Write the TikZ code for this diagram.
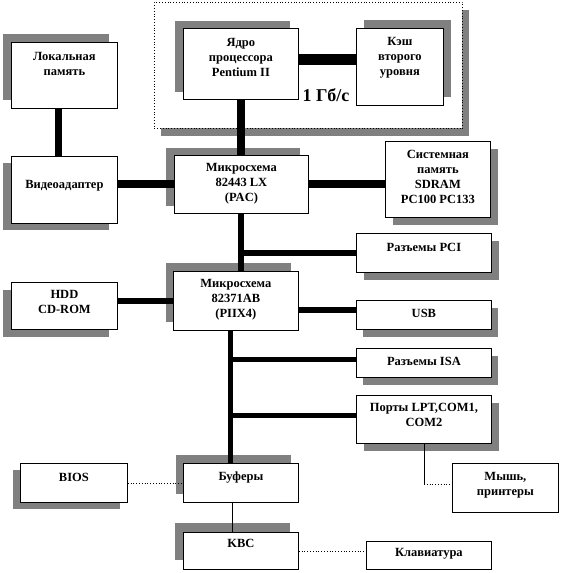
\documentclass[tikz,border=0pt]{standalone}
\usepackage{fontspec}
\setmainfont{Liberation Serif}
\usetikzlibrary{shadows}
\definecolor{shadowgray}{RGB}{128,128,128}
\tikzset{
    board diagram/.style = {x=1pt, y=-1pt},
    block/.style         = {draw, line width=0.8pt, fill=white,
                            anchor=north west, inner sep=0pt},
    cpu frame/.style     = {block, dotted},
    drop/.style 2 args   = {general shadow={fill=shadowgray, draw=none,
                            shadow xshift=#1pt, shadow yshift=#2pt}},
    txt/.style           = {font=\fontsize{12.5}{15}\selectfont\bfseries,
                            align=center, inner sep=0pt},
    speed/.style         = {font=\fontsize{18}{20}\selectfont\bfseries},
    bus/.style           = {line width=#1, line cap=butt},
    link/.style          = {line width=0.8pt},
    dotlink/.style       = {link, dotted}
}

\begin{document}
\begin{tikzpicture}[board diagram]
\useasboundingbox (0,0) rectangle (561,573);

% ================= Processor module =================
\node[cpu frame, drop={7}{-8}, minimum width=308pt, minimum height=126pt] (cpu) at (154,2) {};
\node[block, drop={-8}{7}, minimum width=115pt, minimum height=71pt,
      label={[txt, yshift=6.5pt]center:{Ядро\\процессора\\Pentium II}}] (core) at (183,28) {};
\node[block, drop={8}{8}, minimum width=87pt, minimum height=77pt,
      label={[txt, yshift=9pt]center:{Кэш\\второго\\уровня}}] (cache) at (356,28) {};
\node[speed] (rate) at (326,95) {1 Гб/с};

% ================= Video and north bridge =================
\node[block, drop={-8}{8}, minimum width=106pt, minimum height=66pt,
      label={[txt, yshift=11.5pt]center:{Локальная\\память}}] (locmem) at (11,42) {};
\node[block, drop={-8}{-7}, minimum width=106pt, minimum height=67pt,
      label={[txt, yshift=4.5pt]center:{Видеоадаптер}}] (video) at (11,156) {};
\node[block, drop={-8}{7}, minimum width=134pt, minimum height=58pt,
      label={[txt, yshift=1pt]center:{Микросхема\\82443 LX\\(PAC)}}] (pac) at (174,155) {};
\node[block, drop={8}{-8}, minimum width=105pt, minimum height=76pt,
      label={[txt, yshift=2pt]center:{Системная\\память\\SDRAM\\PC100 PC133}}] (sdram) at (385,141) {};
\node[block, drop={8}{-8}, minimum width=135pt, minimum height=39pt,
      label={[txt, yshift=5.5pt]center:{Разъемы PCI}}] (pci) at (356,233) {};

% ================= South bridge and peripherals =================
\node[block, drop={-8}{-8}, minimum width=106pt, minimum height=47pt,
      label={[txt, yshift=3.5pt]center:{HDD\\CD-ROM}}] (hdd) at (11,282) {};
\node[block, drop={-7}{8}, minimum width=125pt, minimum height=59pt,
      label={[txt, yshift=1pt]center:{Микросхема\\82371AB\\(PIIX4)}}] (piix) at (173,271) {};
\node[block, drop={7}{-8}, minimum width=135pt, minimum height=29pt,
      label={[txt, yshift=1.5pt]center:{USB}}] (usb) at (356,300) {};
\node[block, drop={7}{-8}, minimum width=135pt, minimum height=29pt,
      label={[txt, yshift=1.5pt]center:{Разъемы ISA}}] (isa) at (356,348) {};
\node[block, drop={8}{-8}, minimum width=135pt, minimum height=48pt,
      label={[txt, yshift=4pt]center:{Порты LPT,COM1,\\COM2}}] (ports) at (356,395) {};
\node[block, minimum width=106pt, minimum height=49pt,
      label={[txt, yshift=3pt]center:{Мышь,\\принтеры}}] (mouse) at (452,463) {};
\node[block, drop={-7}{-7}, minimum width=107pt, minimum height=39pt,
      label={[txt, yshift=5.5pt]center:{BIOS}}] (bios) at (20,463) {};
\node[block, drop={-7}{8}, minimum width=115pt, minimum height=39pt,
      label={[txt, yshift=5.5pt]center:{Буферы}}] (buf) at (183,463) {};
\node[block, drop={-8}{9}, minimum width=115pt, minimum height=37pt,
      label={[txt, yshift=7.5pt]center:{KBC}}] (kbc) at (183,532) {};
\node[block, minimum width=125pt, minimum height=28pt,
      label={[txt, yshift=2pt]center:{Клавиатура}}] (kbd) at (366,541) {};

% ================= Tap points =================
\coordinate (l2 tap) at ([yshift=4pt]core.east);
\coordinate (usb tap) at ([yshift=4.5pt]usb.west);
\coordinate (isa tap) at ([yshift=3pt]isa.west);
\coordinate (ports tap) at ([yshift=4pt]ports.west);
\coordinate (mouse tap) at ([yshift=4pt]mouse.west);
\coordinate (spine top) at ([xshift=-5pt]piix.south);

% ================= Buses =================
\draw[bus=11pt] (l2 tap) -- (l2 tap -| cache.west);
\draw[bus=8pt] (core.south) -- (core.south |- pac.north);
\draw[bus=7pt] ([xshift=-5.5pt]locmem.south) -- ([xshift=-5.5pt]video.north);
\draw[bus=8pt] (pac.west) -- (pac.west -| video.east);
\draw[bus=8pt] (pac.east) -- (pac.east -| sdram.west);
\draw[bus=6pt] (pac.south) -- (pac.south |- piix.north);
\draw[bus=6pt] (pci.west) -- (pci.west -| pac.south);
\draw[bus=6pt] (piix.west) -- (piix.west -| hdd.east);
\draw[bus=6pt] (usb tap) -- (usb tap -| piix.east);
\draw[bus=5pt] (spine top) -- (spine top |- buf.north);
\draw[bus=5pt] (isa tap) -- (isa tap -| spine top);
\draw[bus=5pt] (ports tap) -- (ports tap -| spine top);

% ================= Thin links =================
\draw[link] ([xshift=-8.5pt]buf.south) -- ([xshift=-8.5pt]kbc.north);
\draw[dotlink] (bios.east) -- (bios.east -| buf.west);
\draw[dotlink] (kbc.east) -- (kbc.east -| kbd.west);
\draw[link] (ports.south) -- (ports.south |- mouse tap);
\draw[dotlink] (ports.south |- mouse tap) -- (mouse tap);

\end{tikzpicture}
\end{document}
